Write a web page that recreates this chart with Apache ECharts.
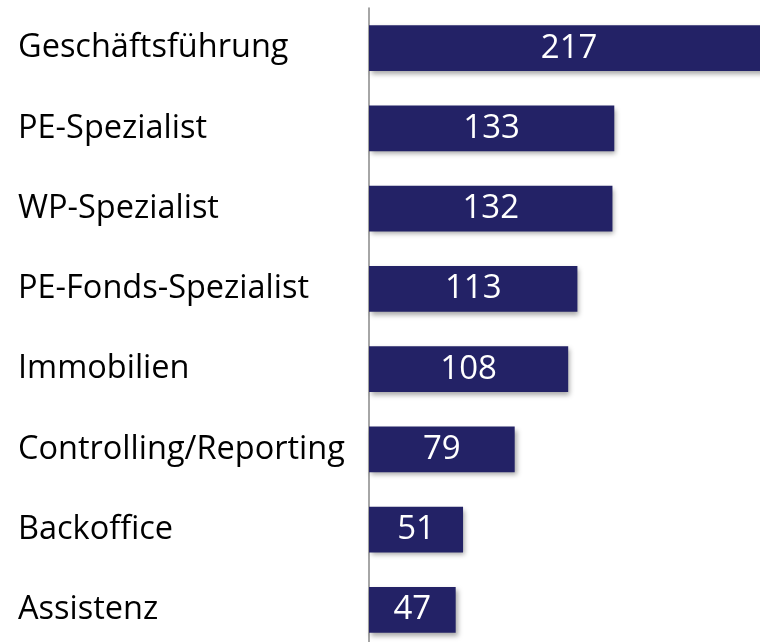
<!DOCTYPE html>
<html><head><meta charset="utf-8">
<script src="https://cdn.jsdelivr.net/npm/echarts@6/dist/echarts.min.js"></script>
<style>html,body{margin:0;padding:0;background:#fff;overflow:hidden}#c{width:760px;height:650px}</style>
</head><body><div id="c"></div>
<script>
const categories = ["Geschäftsführung","PE-Spezialist","WP-Spezialist","PE-Fonds-Spezialist","Immobilien","Controlling/Reporting","Backoffice","Assistenz"];
const values = [217,133,132,113,108,79,51,47];

const chart = echarts.init(document.getElementById('c'));
chart.setOption({
  animation:false,
  grid:{left:369, top:8, width:391, bottom:0, containLabel:false},
  xAxis:{type:'value', min:0, max:212, show:false},
  yAxis:{type:'category', data:categories, inverse:true,
    axisLine:{show:true, lineStyle:{color:'#888', width:1.5}},
    axisTick:{show:false},
    axisLabel:{align:'left', margin:351, color:'#000', fontSize:32.5, fontFamily:'Open Sans', padding:[7,0,0,0]}
  },
  series:[{type:'bar', data:values, barWidth:'57%', clip:false,
    itemStyle:{color:'#232266', shadowColor:'rgba(0,0,0,0.35)', shadowBlur:5, shadowOffsetX:2, shadowOffsetY:3},
    label:{show:true, position:'inside', color:'#fff', fontSize:33, fontFamily:'Open Sans'}
  }]
});
</script></body></html>
